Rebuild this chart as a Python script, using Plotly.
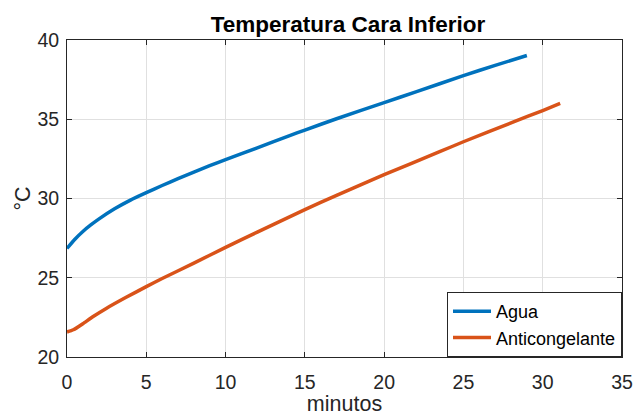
import plotly.graph_objects as go

# Temperatura de la cara inferior frente al tiempo (minutos)
t_agua = [0, 0.5, 1, 1.5, 2, 3, 4, 5, 6, 7, 8, 9, 10, 12, 14, 15, 17, 20, 22, 25, 27, 29]
T_agua = [26.85, 27.43, 27.92, 28.33, 28.7, 29.35, 29.9, 30.37, 30.82, 31.25, 31.67, 32.07,
          32.45, 33.2, 33.95, 34.32, 35.03, 36.05, 36.73, 37.75, 38.4, 39.02]

t_anti = [0, 0.4, 1, 1.6, 2.5, 3.7, 5, 6, 8, 10, 12, 15, 17, 20, 23.5, 25, 28.2, 30, 31.1]
T_anti = [21.58, 21.72, 22.1, 22.52, 23.08, 23.75, 24.44, 24.95, 25.92, 26.92, 27.88, 29.3,
          30.2, 31.5, 32.95, 33.58, 34.85, 35.55, 36.0]

x_ticks = [0, 5, 10, 15, 20, 25, 30, 35]
y_ticks = [20, 25, 30, 35, 40]

BLUE = "#0072BD"
ORANGE = "#D95319"
DARK = "#262626"
FONT = "Liberation Sans, Arial, sans-serif"

fig = go.Figure()
fig.add_trace(go.Scatter(x=t_agua, y=T_agua, mode="lines", name="Agua",
                         line=dict(color=BLUE, width=3.5, shape="spline", smoothing=0.5)))
fig.add_trace(go.Scatter(x=t_anti, y=T_anti, mode="lines", name="Anticongelante",
                         line=dict(color=ORANGE, width=3.5, shape="spline", smoothing=0.5)))

axis_common = dict(
    showline=True, linecolor=DARK, linewidth=1, mirror="allticks",
    ticks="inside", ticklen=5, tickcolor=DARK, tickwidth=1,
    showgrid=True, gridcolor="#e0e0e0", gridwidth=1, zeroline=False,
    tickfont=dict(family=FONT, size=19.5, color=DARK),
    automargin=False,
)

fig.update_xaxes(range=[0, 35], tickvals=x_ticks,
                 title=dict(text="minutos", font=dict(family=FONT, size=21.5, color=DARK), standoff=7),
                 ticklabelstandoff=8, **axis_common)
fig.update_yaxes(range=[20, 40], tickvals=y_ticks,
                 title=dict(text="°C", font=dict(family=FONT, size=21.5, color=DARK), standoff=0),
                 ticklabelstandoff=3, **axis_common)

fig.update_layout(
    width=634, height=416,
    margin=dict(l=67, r=12, t=40, b=59),
    paper_bgcolor="white", plot_bgcolor="white",
    title=dict(text="<b>Temperatura Cara Inferior</b>", x=348 / 634, xanchor="center",
               y=1 - 24 / 416, yanchor="middle", yref="container",
               font=dict(family=FONT, size=22.5, color="black")),
    legend=dict(x=1, y=0, xanchor="right", yanchor="bottom",
                bgcolor="white", bordercolor=DARK, borderwidth=1,
                font=dict(family=FONT, size=18, color="black"),
                tracegroupgap=0, itemwidth=38),
    showlegend=True,
)

fig.write_html("out.html")
